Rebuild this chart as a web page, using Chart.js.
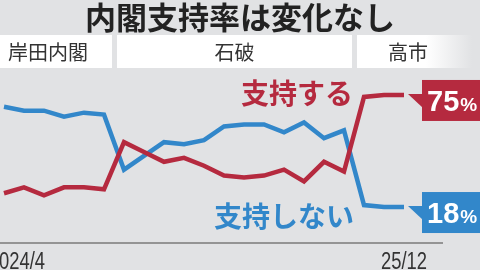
<!DOCTYPE html>
<html>
<head>
<meta charset="utf-8">
<script src="https://cdn.jsdelivr.net/npm/chart.js@4"></script>
<style>
  html, body { margin: 0; padding: 0; background: #e1e2e4; }
  #wrap { width: 480px; height: 270px; }
</style>
</head>
<body>
<div id="wrap"><canvas id="approvalChart" width="480" height="270"></canvas></div>
<script>
// monthly polls, 2024/4 .. 2025/12
const months = ["2024/4","5","6","7","8","9","10","11","12","2025/1","2","3","4","5","6","7","8","9","10","11","25/12"];
const support = [25, 28, 24, 28, 28, 27, 51, 46, 41, 43, 39, 34, 33, 34, 37, 31, 41, 36, 74, 75, 75];
const noSupport = [69, 67, 67, 64, 66, 65, 37, 44, 51, 50, 52, 59, 60, 60, 56, 61, 53, 57, 19, 18, 18];
const cabinets = ["岸田内閣", "石破", "高市"];
const xLabels = ["2024/4", "25/12"];

const RED = "#b52a3f";
const BLUE = "#3287ca";
const BG = "#e1e2e4";
const JP = '"Noto Sans CJK JP", "Noto Sans", sans-serif';

const decor = {
  id: "decor",
  beforeDraw(chart) {
    const ctx = chart.ctx;
    const area = chart.chartArea;
    ctx.save();
    ctx.fillStyle = BG;
    ctx.fillRect(0, 0, chart.width, chart.height);

    // title
    ctx.fillStyle = "#222";
    ctx.font = "bold 31px " + JP;
    ctx.textAlign = "center";
    ctx.textBaseline = "middle";
    ctx.fillText("内閣支持率は変化なし", 240, 17);

    // cabinet bands
    ctx.fillStyle = "#fff";
    ctx.fillRect(0, 35, 112, 33);
    ctx.fillRect(117, 35, 235, 33);
    const g = ctx.createLinearGradient(357, 0, 472, 0);
    g.addColorStop(0, "#fff");
    g.addColorStop(0.6, "#fff");
    g.addColorStop(1, BG);
    ctx.fillStyle = g;
    ctx.fillRect(357, 35, 123, 33);
    ctx.fillStyle = "#333";
    ctx.font = "20px " + JP;
    ctx.fillText(cabinets[0], 48, 52);
    ctx.fillText(cabinets[1], 234.5, 52);
    ctx.fillText(cabinets[2], 408, 52);

    // x axis line
    ctx.strokeStyle = "#7a7a7a";
    ctx.lineWidth = 1.5;
    ctx.beginPath();
    ctx.moveTo(0, area.bottom);
    ctx.lineTo(area.right, area.bottom);
    ctx.stroke();

    // x labels, condensed
    ctx.fillStyle = "#333";
    ctx.font = '23px "Liberation Sans", Arial, sans-serif';
    ctx.textBaseline = "alphabetic";
    ctx.save();
    ctx.scale(0.8, 1);
    ctx.textAlign = "right";
    ctx.fillText(xLabels[0], 45 / 0.8, 269);
    ctx.textAlign = "center";
    const xs = chart.scales.x;
    ctx.fillText(xLabels[1], xs.getPixelForValue(support.length - 1) / 0.8, 269);
    ctx.restore();
    ctx.restore();
  },
  afterDatasetsDraw(chart) {
    const ctx = chart.ctx;
    ctx.save();
    // series labels
    ctx.font = "bold 28px " + JP;
    ctx.textAlign = "left";
    ctx.textBaseline = "middle";
    ctx.fillStyle = RED;
    ctx.fillText("支持する", 241, 93);
    ctx.fillStyle = BLUE;
    ctx.fillText("支持しない", 214, 216);

    // end callouts
    const callout = (dsIndex, color, value) => {
      const meta = chart.getDatasetMeta(dsIndex);
      const pt = meta.data[meta.data.length - 1];
      const tipX = pt.x + 4, y = pt.y;
      const boxX = 422;
      ctx.fillStyle = color;
      ctx.fillRect(boxX, y - 15, 70, 41);
      ctx.beginPath();
      ctx.moveTo(tipX, y - 1);
      ctx.lineTo(boxX + 1, y - 1);
      ctx.lineTo(boxX + 1, y + 13);
      ctx.closePath();
      ctx.fill();
      ctx.fillStyle = "#fff";
      ctx.textAlign = "left";
      ctx.textBaseline = "alphabetic";
      ctx.font = 'bold 29px "Liberation Sans", Arial, sans-serif';
      ctx.fillText(String(value), 427, y + 16);
      const w = ctx.measureText(String(value)).width;
      ctx.font = 'bold 19px "Liberation Sans", Arial, sans-serif';
      ctx.fillText("%", 427 + w + 1, y + 16);
    };
    callout(0, RED, support[support.length - 1]);
    callout(1, BLUE, noSupport[noSupport.length - 1]);
    ctx.restore();
  }
};

const ctx = document.getElementById("approvalChart").getContext("2d");
new Chart(ctx, {
  type: "line",
  data: {
    labels: months,
    datasets: [
      {
        label: "支持する",
        data: support.map((v, i) => ({ x: i, y: v })),
        borderColor: RED,
        borderWidth: 4.5,
        pointRadius: 0,
        tension: 0,
        fill: false,
      },
      {
        label: "支持しない",
        data: noSupport.map((v, i) => ({ x: i, y: v })),
        borderColor: BLUE,
        borderWidth: 4.5,
        pointRadius: 0,
        tension: 0,
        fill: false,
      },
    ],
  },
  options: {
    responsive: false,
    animation: false,
    devicePixelRatio: 1,
    layout: { padding: { left: 0, right: 37, top: 70, bottom: 27 } },
    plugins: { legend: { display: false }, tooltip: { enabled: false }, title: { display: false } },
    scales: {
      x: { type: "linear", min: -0.2, max: 21.95, display: false },
      y: { min: -0.3, max: 87.7, display: false },
    },
  },
  plugins: [decor],
});
</script>
</body>
</html>
